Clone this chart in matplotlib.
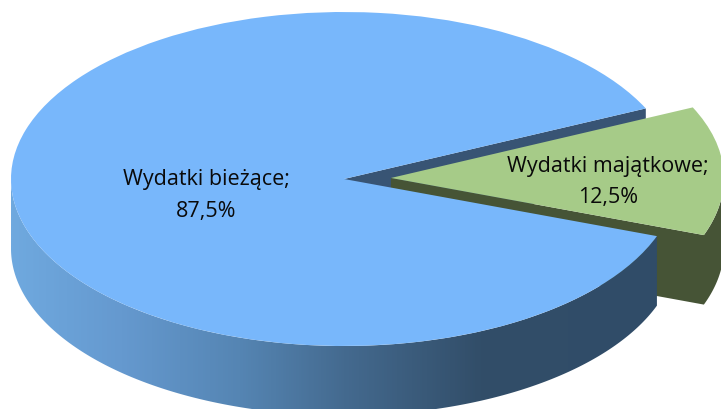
import numpy as np
import matplotlib
matplotlib.use("Agg")
import matplotlib.pyplot as plt
from matplotlib.colors import LinearSegmentedColormap
from matplotlib.patches import Polygon

categories = ["Wydatki bieżące", "Wydatki majątkowe"]
shares = [87.5, 12.5]

W, H = 721, 410
CX, CY, RX, RY = 344.0, 180.0, 333.0, 167.0
DEPTH = 69.5 / RY
EXPLODE = [0.0, 47.0 / RX]
START = 25.0
TOP_COLORS = ["#78B7FB", "#A6CB88"]
WALL_GREEN = "#465436"
WALL_BLUE = "#385474"

fig = plt.figure(figsize=(W / 100, H / 100), dpi=100)
ax = fig.add_axes([0, 0, 1, 1])
wedges, _ = ax.pie(shares, explode=EXPLODE, startangle=START, colors=TOP_COLORS,
                   wedgeprops={"linewidth": 0})
ax.set_aspect("auto")
blue, green = wedges


def arc(center, t1, t2, drop=0.0):
    t = np.radians(np.linspace(t1, t2, 240))
    return np.column_stack([center[0] + np.cos(t), center[1] + np.sin(t) - drop])


def band(center, t1, t2):
    return np.vstack([arc(center, t1, t2), arc(center, t1, t2, DEPTH)[::-1]])


def cut_face(center, theta):
    p = np.array([center[0] + np.cos(np.radians(theta)), center[1] + np.sin(np.radians(theta))])
    c = np.array(center)
    d = np.array([0, DEPTH])
    return np.vstack([c, p, p - d, c - d])


blue.set_zorder(5)
green.set_zorder(6)

# far cut wall of the large slice, seen through the gap
ax.add_patch(Polygon(cut_face(blue.center, blue.theta1), closed=True, fc=WALL_BLUE, ec="none", zorder=1))

# wall of the exploded slice: cut face and outer rim as one outline
g1 = green.theta1 % 360
c = np.array(green.center)
green_wall = np.vstack([c, band(green.center, g1, 360), c - np.array([0, DEPTH])])
ax.add_patch(Polygon(green_wall, closed=True, fc=WALL_GREEN, ec="none", zorder=2))

# gradient front wall of the large slice
cmap = LinearSegmentedColormap.from_list(
    "wall",
    [(0.0, "#6FA9DF"), (0.17, "#6599CF"), (0.354, "#5585B3"), (0.517, "#446A8F"),
     (0.726, "#324E69"), (1.0, "#304C68")],
)
xmin, xmax = -1.0, np.cos(np.radians(blue.theta2))
ymin, ymax = -1.0 - DEPTH, 0.0
im = ax.imshow(np.linspace(0, 1, 512)[None, :], cmap=cmap, aspect="auto",
               extent=(xmin, xmax, ymin, ymax), origin="lower", zorder=3)
wall = Polygon(band(blue.center, 180, blue.theta2), closed=True, fc="none", ec="none",
               transform=ax.transData)
ax.add_patch(wall)
im.set_clip_path(wall)

ax.set_xlim(-CX / RX, (W - CX) / RX)
ax.set_ylim((CY - H) / RY, CY / RY)
ax.axis("off")


def label(i, px, py):
    text = f"{categories[i]};\n{shares[i]:.1f}%".replace(".", ",")
    ax.text((px - CX) / RX, (CY - py) / RY, text, ha="center", va="center",
            fontfamily="Open Sans", fontsize=15.5, color="#0A0A0A", linespacing=1.68, zorder=8)


label(0, 206, 195.5)
label(1, 608, 182)

fig.savefig("out.png", dpi=100)
